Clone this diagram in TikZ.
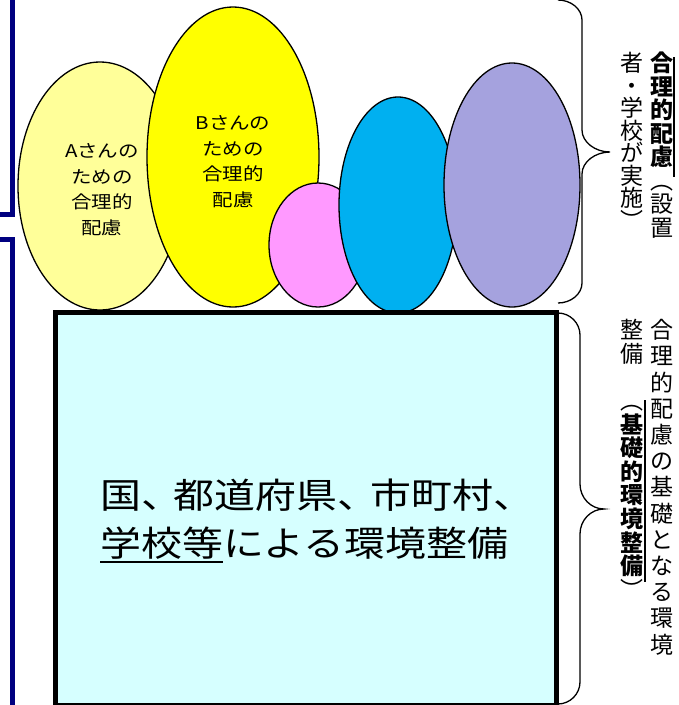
\documentclass[tikz,border=0pt]{standalone}
\usepackage{fontspec}
\usepackage{graphicx}
\setmainfont{Noto Sans CJK JP}
\usetikzlibrary{shapes.geometric}
\definecolor{navyline}{RGB}{0,0,128}
\definecolor{lyellow}{RGB}{255,255,153}
\definecolor{yel}{RGB}{255,255,0}
\definecolor{pinkf}{RGB}{255,153,255}
\definecolor{cyanf}{RGB}{0,176,240}
\definecolor{lavf}{RGB}{165,162,222}
\definecolor{boxf}{RGB}{214,255,255}
\newcommand\hs[1]{\scalebox{1.17}[1]{#1}}
\newcommand\myul[1]{\setbox0\hbox{#1}\rlap{\rule[-6.5pt]{\wd0}{2pt}}\box0}
\newcommand\nc[1]{\hbox to 0.8em{#1\hss}}
\begin{document}
\begin{tikzpicture}[x=1pt,y=-1pt,
  ell/.style={ellipse, draw=black, line width=1.3pt, inner sep=0pt},
  elltext/.style={align=center, inner sep=0pt, font=\fontsize{17.5}{25.5}\selectfont},
  brace/.style={draw=black, line width=1.3pt},
  bluebar/.style={draw=navyline, line width=5pt, line join=miter},
  boxst/.style={draw=black, line width=5pt, fill=boxf, inner sep=0pt},
  vch/.style={inner sep=0pt, font=\fontsize{23}{23}\selectfont, text height=0.8em, text depth=0.05em},
  vul/.style={draw=black, line width=1.8pt}]
\useasboundingbox (0,0) rectangle (679,705);
% left blue bars
\draw[bluebar] (0,214) -- (12.5,214) -- (12.5,-5);
\draw[bluebar] (0,239.5) -- (12.5,239.5) -- (12.5,712);
% ellipses
\node[ell, fill=lyellow, minimum width=164pt, minimum height=248pt] (ea) at (100,186) {};
\node[ell, fill=yel, minimum width=172pt, minimum height=300pt] (eb) at (233,157) {};
\node[ell, fill=pinkf, minimum width=98pt, minimum height=124pt] (ep) at (318,245) {};
\node[ell, fill=cyanf, minimum width=118pt, minimum height=216pt] (ec) at (398,205) {};
\node[ell, fill=lavf, minimum width=136pt, minimum height=244pt] (el) at (512,185) {};
\node[elltext] (ta) at (102,189.5) {\hs{Aさんの}\\\hs{ための}\\\hs{合理的}\\\hs{配慮}};
\node[elltext] (tb) at (233,161.5) {\hs{Bさんの}\\\hs{ための}\\\hs{合理的}\\\hs{配慮}};
% main box
\node[boxst, minimum width=500.5pt, minimum height=393pt] (box) at (305.75,509) {};
\node[anchor=west, align=left, inner sep=0pt, font=\fontsize{35}{48}\selectfont] (boxtext) at (100,521)
  {\hs{国\nc{、}都道府県\nc{、}市町村\nc{、}}\\\hs{\myul{学校等}による環境整備}};
% braces
\draw[brace] (558,0) .. controls (571,0) and (582,9) .. (582,20) -- (582,130)
  .. controls (582,142) and (595,152) .. (610,152)
  .. controls (595,152) and (582,162) .. (582,174) -- (582,283)
  .. controls (582,294) and (571,303) .. (558,303);
\draw[brace] (558,313) .. controls (570,313) and (580,323) .. (580,335) -- (580,484)
  .. controls (580,498) and (591,509) .. (604,509)
  .. controls (591,509) and (580,520) .. (580,534) -- (580,682)
  .. controls (580,694) and (570,704) .. (558,704);
% vertical texts (top)
\foreach \ch [count=\i from 0] in {{\bfseries 合},{\bfseries 理},{\bfseries 的},{\bfseries 配},{\bfseries 慮},︵,設,置}
  \node[vch] (tr\i) at (662,68+23.5*\i) {\ch};
\foreach \ch [count=\i from 0] in {者,・,学,校,が,実,施,︶}
  \node[vch] (tl\i) at (632,68+22.5*\i) {\ch};
\draw[vul] (674,57) -- (674,177);
% vertical texts (bottom)
\foreach \ch [count=\i from 0] in {合,理,的,配,慮,の,基,礎,と,な,る,環,境}
  \node[vch] (br\i) at (662,335+26.2*\i) {\ch};
\foreach \ch/\k in {整/0,備/1,︵/3,{\bfseries 基}/4,{\bfseries 礎}/5,{\bfseries 的}/6,{\bfseries 環}/7,{\bfseries 境}/8,{\bfseries 整}/9,{\bfseries 備}/10,︶/11}
  \node[vch] (bl\k) at (632,335+23.6*\k) {\ch};
\draw[vul] (645,400) -- (645,582);
\end{tikzpicture}
\end{document}
